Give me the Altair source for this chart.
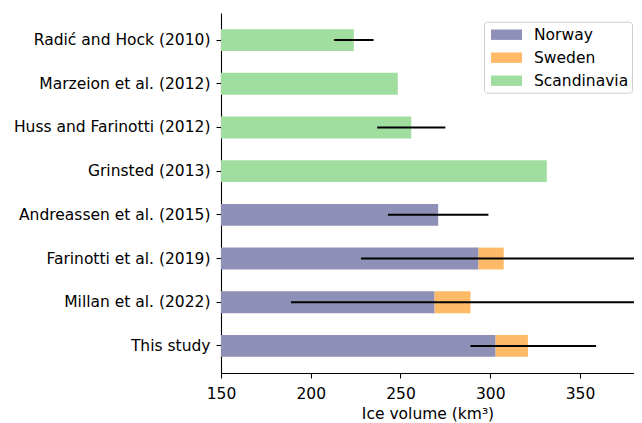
import altair as alt
import pandas as pd

studies = ["Radić and Hock (2010)", "Marzeion et al. (2012)", "Huss and Farinotti (2012)",
           "Grinsted (2013)", "Andreassen et al. (2015)", "Farinotti et al. (2019)",
           "Millan et al. (2022)", "This study"]
norway = [None, None, None, None, 271, 293.5, 269, 303]
sweden = [None, None, None, None, None, 14, 20, 18]
scandinavia = [224, 248.5, 256, 331.5, None, None, None, None]
err_low = [213, None, 237, None, 243, 228, 189, 289]
err_high = [235, None, 275, None, 299, 388, 389, 359]

regions = ["Norway", "Sweden", "Scandinavia"]
colors = ["#8e90b8", "#feba66", "#a0dea0"]

rows = []
for i, s in enumerate(studies):
    for r, vals in zip(regions, [norway, sweden, scandinavia]):
        if vals[i] is not None:
            rows.append({"study": s, "region": r, "value": vals[i], "order": regions.index(r)})
bars_df = pd.DataFrame(rows)
err_df = pd.DataFrame([{"study": s, "lo": lo, "hi": hi}
                       for s, lo, hi in zip(studies, err_low, err_high) if lo is not None])

FONT = "DejaVu Sans"
FS = 15.5
xscale = alt.Scale(domain=[150, 380.1], nice=False, zero=False)
yscale = alt.Scale(domain=studies, paddingInner=0.5, paddingOuter=0.37)

bars = alt.Chart(bars_df).mark_bar(clip=True).encode(
    y=alt.Y("study:N", scale=yscale, sort=studies,
            axis=alt.Axis(title=None, labelFontSize=FS, labelFont=FONT, labelColor="black",
                          tickSize=5, tickColor="black", domainColor="black",
                          labelPadding=6, labelLimit=300)),
    x=alt.X("value:Q", stack="zero", scale=xscale,
            axis=alt.Axis(title="Ice volume (km³)", values=[150, 200, 250, 300, 350],
                          labelFontSize=FS, labelFont=FONT, labelColor="black",
                          titleFontSize=FS, titleFont=FONT, titleFontWeight="normal",
                          titleColor="black", tickSize=5, tickColor="black",
                          domainColor="black", grid=False, labelPadding=8, titlePadding=5,
                          labelFlush=False)),
    color=alt.Color("region:N", scale=alt.Scale(domain=regions, range=colors),
                    legend=alt.Legend(title=None, orient="none", legendX=263, legendY=8.7,
                                      labelFontSize=FS, labelFont=FONT, labelColor="black",
                                      symbolType="M-0.6,-0.52H2.5V0.52H-0.6Z", symbolSize=400,
                                      symbolStrokeWidth=0, symbolOpacity=1,
                                      labelOffset=27, rowPadding=4, padding=3,
                                      fillColor="white", strokeColor="#d0d0d0",
                                      cornerRadius=3)),
    order=alt.Order("order:Q"),
)

errs = alt.Chart(err_df).mark_rule(clip=True, color="black", strokeWidth=2).encode(
    y=alt.Y("study:N", scale=yscale, sort=studies),
    x="lo:Q",
    x2="hi:Q",
)

chart = alt.layer(bars, errs).properties(
    width=413, height=360,
    padding={"left": 213, "top": 5, "right": 0, "bottom": 50},
    autosize=alt.AutoSizeParams(type="none"),
).configure_view(stroke=None).configure_axis(domainWidth=1.1, tickWidth=1.1)

chart.save("out.html", embed_options={"renderer": "svg", "actions": False})
